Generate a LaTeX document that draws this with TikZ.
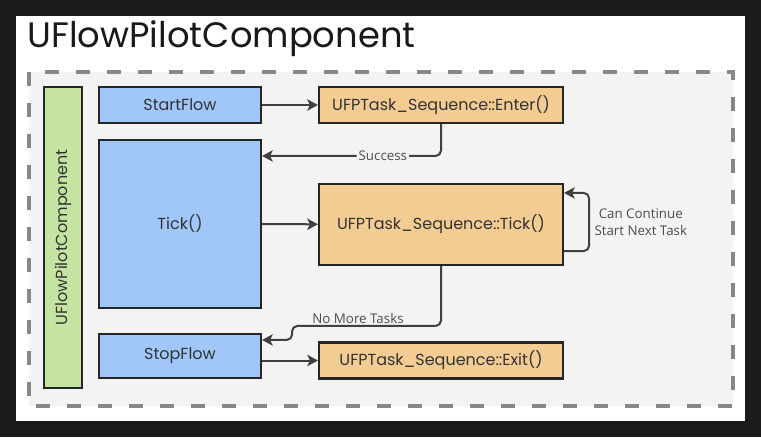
\documentclass[tikz,border=0pt]{standalone}
\usepackage{fontspec}
\setmainfont{Poppins}
\newfontfamily\edgefont{Open Sans}
\usetikzlibrary{arrows.meta,calc}

\definecolor{darkbg}{RGB}{27,27,27}
\definecolor{panelbg}{RGB}{243,243,243}
\definecolor{dashgray}{RGB}{136,136,136}
\definecolor{flowblue}{RGB}{160,199,248}
\definecolor{taskorange}{RGB}{243,204,147}
\definecolor{compgreen}{RGB}{197,227,161}
\definecolor{edgegray}{RGB}{64,64,64}

\tikzset{every picture/.style={line width=0.75pt}}
\tikzset{
  box/.style 2 args={draw=black!85, line width=1.6pt, inner sep=0pt,
    minimum width=#1*0.75pt, minimum height=#2*0.75pt, font=\fontsize{12}{14}\selectfont, text=black!80},
  flowbox/.style 2 args={box={#1}{#2}, fill=flowblue},
  taskbox/.style 2 args={box={#1}{#2}, fill=taskorange},
  link/.style={draw=edgegray, line width=1.5pt, -{Stealth[length=8pt,width=8.5pt,inset=2pt]}, rounded corners=4pt},
  edgelabel/.style={font=\edgefont\fontsize{10}{12.5}\selectfont, text=black!70, inner sep=1.5pt}
}

\begin{document}
\begin{tikzpicture}[x=0.75pt,y=0.75pt,yscale=-1,xscale=1]
%set diagram size 761 x 437
\useasboundingbox (0,0) rectangle (761,437);

%Background
\fill [darkbg] (0,0) rectangle (761,437);
\fill [white] (16,16) rectangle (745,421);
%Dashed Frame
\draw [dashgray, fill=panelbg, line width=3pt, dash pattern=on 10.5pt off 12.75pt] (29,72) rectangle (733,406);

% Title
\node [anchor=west, inner sep=0pt, font=\fontsize{26.5}{31}\selectfont, text=black!90] (title) at (27,39) {UFlowPilotComponent};

%Shape: Component Bar (rotated, so width and height swap)
\node [box={301}{38}, fill=compgreen, rotate=90] (comp) at (63,237.5) {UFlowPilotComponent};

%Shape: Flow Boxes
\node [flowbox={162}{36}] (startflow) at (180,105) {StartFlow};
\node [flowbox={162}{168}] (tick) at (180,224) {Tick()};
\node [flowbox={162}{44}] (stopflow) at (180,356) {StopFlow};

%Shape: Task Boxes
\node [taskbox={244}{36}] (enter) at (441,105) {UFPTask\_Sequence::Enter()};
\node [taskbox={244}{81}] (seqtick) at (441,224.5) {UFPTask\_Sequence::Tick()};
\node [taskbox={244}{36}] (exit) at (441,360.5) {UFPTask\_Sequence::Exit()};

%Connectors
\draw [link] (startflow) -- (enter);
\draw [link] (enter.south) |- ($(tick.north east)+(0,17)$) node [pos=0.6625, edgelabel, fill=panelbg] (success) {Success};
\draw [link] (tick) -- (seqtick);
\draw [link] ($(seqtick.south east)+(0,-15)$) -- ++(25,0) |- ($(seqtick.north east)+(0,10)$);
\draw [link] (seqtick.south) |- ($(stopflow.north east)+(30,-7)$) |- ($(stopflow.north east)+(0,7)$);
\draw [link] (stopflow.east |- exit) -- (exit);

% Text Node
\node [edgelabel, align=center, anchor=west] (cancont) at (592,222) {Can Continue\\Start Next Task};
% Text Node
\node [edgelabel] (nomore) at (358,318) {No More Tasks};

\end{tikzpicture}
\end{document}
